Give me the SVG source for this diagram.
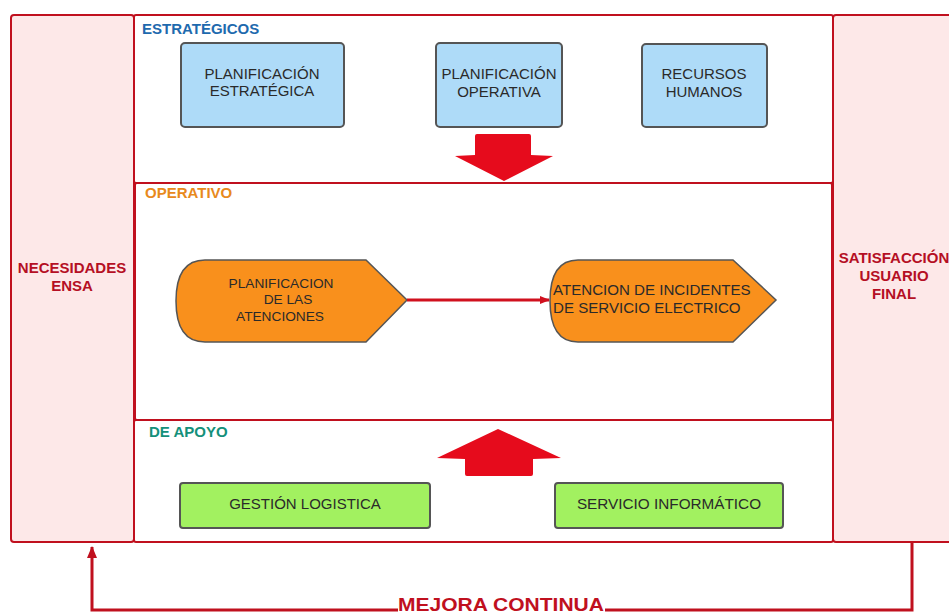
<svg xmlns="http://www.w3.org/2000/svg" width="949" height="615" viewBox="0 0 949 615">
  <style>
    .panel { fill: #fde8e8; stroke: #c0101e; stroke-width: 2; }
    .zone { fill: #ffffff; stroke: #c0101e; stroke-width: 2; }
    .blue { fill: #aedbf8; stroke: #555555; stroke-width: 2; }
    .green { fill: #a2f160; stroke: #555555; stroke-width: 2; }
    .orange { fill: #f9901c; stroke: #555555; stroke-width: 1.5; }
    .big { fill: #e60b1c; }
    .t { font-family: "Liberation Sans", Arial, sans-serif; fill: #2a2a2a; font-size: 15px; text-anchor: middle; }
    .side { font-family: "Liberation Sans", Arial, sans-serif; font-weight: bold; font-size: 15px; fill: #b50f24; text-anchor: middle; }
    .hdr { font-family: "Liberation Sans", Arial, sans-serif; font-weight: bold; font-size: 15px; }
    .link { fill: none; stroke: #c0101e; stroke-width: 3; }
  </style>
  <defs>
    <marker id="head" markerWidth="10" markerHeight="10" refX="9" refY="5" orient="auto" markerUnits="userSpaceOnUse">
      <path d="M0,1 L10,5 L0,9 Z" fill="#d0101e"/>
    </marker>
    <marker id="headUp" markerWidth="12" markerHeight="14" refX="11" refY="6" orient="auto" markerUnits="userSpaceOnUse">
      <path d="M0,1 L12,6 L0,11 Z" fill="#c0101e"/>
    </marker>
  </defs>

  <!-- side panels -->
  <g id="necesidades">
    <rect class="panel" x="11" y="15" width="123" height="527" rx="3"/>
    <text class="side" x="72" y="273">NECESIDADES</text>
    <text class="side" x="72" y="291">ENSA</text>
  </g>
  <g id="satisfaccion">
    <rect class="panel" x="833" y="15" width="130" height="527" rx="3"/>
    <text class="side" x="894" y="263">SATISFACCIÓN</text>
    <text class="side" x="894" y="281">USUARIO</text>
    <text class="side" x="894" y="299">FINAL</text>
  </g>

  <!-- process zones -->
  <g id="estrategicos">
    <rect class="zone" x="134" y="15" width="699" height="168" rx="2"/>
    <text class="hdr" x="142" y="34" fill="#1e6aae">ESTRATÉGICOS</text>
  </g>
  <g id="operativo">
    <rect class="zone" x="135" y="183" width="697" height="237" rx="2"/>
    <text class="hdr" x="145" y="198" fill="#e8891c">OPERATIVO</text>
  </g>
  <g id="apoyo">
    <rect class="zone" x="134" y="420" width="699" height="122" rx="2"/>
    <text class="hdr" x="149" y="437" fill="#14907a">DE APOYO</text>
  </g>

  <!-- strategic nodes -->
  <g id="plan-estrategica">
    <rect class="blue" x="181" y="43" width="163" height="84" rx="4"/>
    <text class="t" x="262" y="79">PLANIFICACIÓN</text>
    <text class="t" x="262" y="96">ESTRATÉGICA</text>
  </g>
  <g id="plan-operativa">
    <rect class="blue" x="436" y="43" width="126" height="84" rx="4"/>
    <text class="t" x="499" y="79">PLANIFICACIÓN</text>
    <text class="t" x="499" y="97">OPERATIVA</text>
  </g>
  <g id="rrhh">
    <rect class="blue" x="642" y="44" width="125" height="83" rx="4"/>
    <text class="t" x="704" y="79">RECURSOS</text>
    <text class="t" x="704" y="97">HUMANOS</text>
  </g>

  <!-- operative nodes -->
  <g id="planificacion-atenciones">
    <path class="orange" d="M205,260 L366,260 L407,300 L366,342 L205,342 Q176,342 176,301 Q176,260 205,260 Z"/>
    <text class="t" x="281" y="288" style="font-size:13.7px">PLANIFICACION</text>
    <text class="t" x="288" y="304" style="font-size:13.7px">DE LAS</text>
    <text class="t" x="280" y="321" style="font-size:13.7px">ATENCIONES</text>
  </g>
  <g id="atencion-incidentes">
    <path class="orange" d="M578,260 L733,260 L776,300 L733,342 L578,342 Q550,342 550,301 Q550,260 578,260 Z"/>
    <text class="t" x="553" y="295" style="text-anchor:start;font-size:15.1px">ATENCION DE INCIDENTES</text>
    <text class="t" x="553" y="313" style="text-anchor:start;font-size:15.1px">DE SERVICIO ELECTRICO</text>
  </g>

  <!-- support nodes -->
  <g id="gestion-logistica">
    <rect class="green" x="180" y="483" width="250" height="45" rx="3"/>
    <text class="t" x="305" y="509">GESTIÓN LOGISTICA</text>
  </g>
  <g id="servicio-informatico">
    <rect class="green" x="555" y="483" width="228" height="45" rx="3"/>
    <text class="t" x="669" y="509" style="font-size:15.3px">SERVICIO INFORMÁTICO</text>
  </g>

  <!-- connectors -->
  <g id="connectors">
    <path class="big" d="M477,134 L529,134 Q531,134 531,136 L531,155 L553,156 L504,181 L455,156 L475,155 L475,136 Q475,134 477,134 Z"/>
    <path class="big" d="M498,429 L561,458 L533,459 L533,474 Q533,476 531,476 L467,476 Q465,476 465,474 L465,459 L437,458 Z"/>
    <line x1="407" y1="300" x2="549" y2="300" stroke="#d0101e" stroke-width="3" marker-end="url(#head)"/>
    <path class="link" d="M912,542 L912,610 L605,610 M398,610 L92,610 L92,547" marker-end="url(#headUp)"/>
    <text x="501" y="611" font-family="Liberation Sans, Arial, sans-serif" font-weight="bold" font-size="18" fill="#c0101e" text-anchor="middle" textLength="206" lengthAdjust="spacingAndGlyphs">MEJORA CONTINUA</text>
  </g>
</svg>
